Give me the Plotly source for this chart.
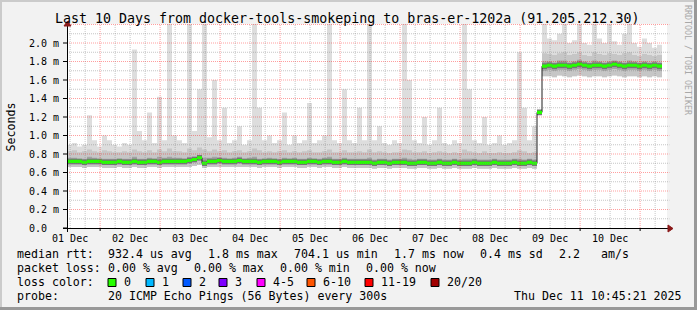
import plotly.graph_objects as go
from datetime import datetime, timedelta

# ---------------- data ----------------
T_START = datetime(2025, 12, 1, 10, 45, 21)
T_END = datetime(2025, 12, 11, 10, 45, 21)
STEP_HOURS = 2

# values in milliseconds, one per 2-hour bin
MEDIAN = [0.72, 0.72, 0.72, 0.71, 0.72, 0.72, 0.72, 0.71, 0.71, 0.71,
          0.72, 0.71, 0.71, 0.72, 0.71, 0.71, 0.72, 0.72, 0.71, 0.72,
          0.72, 0.72, 0.72, 0.72, 0.73, 0.74, 0.76, 0.70, 0.72, 0.72,
          0.73, 0.72, 0.72, 0.72, 0.73, 0.72, 0.72, 0.72, 0.71, 0.72,
          0.72, 0.72, 0.71, 0.72, 0.72, 0.72, 0.71, 0.71, 0.72, 0.72,
          0.71, 0.72, 0.72, 0.71, 0.71, 0.72, 0.71, 0.71, 0.71, 0.71,
          0.71, 0.70, 0.71, 0.71, 0.70, 0.71, 0.71, 0.71, 0.70, 0.70,
          0.71, 0.71, 0.70, 0.70, 0.71, 0.70, 0.70, 0.71, 0.70, 0.70,
          0.70, 0.71, 0.70, 0.70, 0.70, 0.71, 0.70, 0.70, 0.70, 0.71,
          0.70, 0.70, 0.71, 0.70, 1.25,
          1.75, 1.76, 1.75, 1.76, 1.76, 1.75, 1.76, 1.77, 1.76, 1.75,
          1.76, 1.76, 1.75, 1.76, 1.77, 1.76, 1.75, 1.76, 1.76, 1.75,
          1.76, 1.75, 1.76, 1.75]

MAX = [0.90, 0.92, 0.88, 0.90, 1.22, 0.95, 0.88, 1.00, 0.95, 0.90,
       0.88, 0.92, 0.90, 1.93, 1.05, 0.95, 1.25, 0.92, 1.42, 0.95,
       2.21, 1.00, 0.95, 0.92, 2.21, 1.05, 1.50, 2.21, 0.98, 1.60,
       0.95, 1.30, 0.92, 0.95, 1.10, 0.90, 0.95, 2.21, 1.30, 0.95,
       1.00, 0.92, 0.95, 1.25, 0.90, 1.00, 0.92, 0.95, 1.35, 0.92,
       0.95, 1.00, 2.21, 0.95, 0.92, 1.50, 0.95, 0.92, 1.30, 0.95,
       2.21, 0.95, 1.10, 0.92, 0.90, 0.95, 0.92, 2.21, 1.60, 0.95,
       0.92, 1.20, 0.90, 0.95, 1.30, 0.92, 0.90, 0.95, 0.92, 2.21,
       1.50, 0.95, 0.92, 1.20, 0.90, 0.92, 1.00, 0.90, 0.92, 0.95,
       1.90, 1.30, 0.95, 1.10, 1.27,
       2.21, 2.05, 2.03, 2.10, 2.21, 2.00, 2.03, 2.21, 2.00, 1.98,
       2.21, 2.05, 2.00, 2.21, 2.02, 1.98, 2.10, 2.21, 2.00, 1.96,
       2.05, 2.00, 1.95, 1.98]

HIGH = [0.83, 0.84, 0.82, 0.83, 0.85, 0.83, 0.82, 0.84, 0.83, 0.82,
        0.82, 0.83, 0.82, 0.85, 0.83, 0.82, 0.84, 0.82, 0.85, 0.83,
        0.86, 0.83, 0.83, 0.82, 0.86, 0.84, 0.87, 0.85, 0.83, 0.85,
        0.83, 0.84, 0.82, 0.83, 0.84, 0.82, 0.83, 0.86, 0.84, 0.82,
        0.83, 0.82, 0.83, 0.84, 0.82, 0.83, 0.82, 0.83, 0.84, 0.82,
        0.82, 0.83, 0.85, 0.82, 0.82, 0.84, 0.82, 0.82, 0.83, 0.82,
        0.85, 0.82, 0.83, 0.82, 0.81, 0.82, 0.82, 0.85, 0.84, 0.82,
        0.82, 0.83, 0.81, 0.82, 0.83, 0.82, 0.81, 0.82, 0.81, 0.85,
        0.83, 0.82, 0.81, 0.83, 0.81, 0.81, 0.82, 0.81, 0.81, 0.82,
        0.84, 0.83, 0.81, 0.82, 1.26,
        1.89, 1.88, 1.87, 1.89, 1.90, 1.87, 1.88, 1.90, 1.87, 1.86,
        1.90, 1.88, 1.87, 1.89, 1.88, 1.87, 1.89, 1.90, 1.87, 1.86,
        1.88, 1.87, 1.86, 1.87]

UPPER_Q = [0.76, 0.76, 0.75, 0.75, 0.77, 0.76, 0.75, 0.75, 0.75, 0.75,
           0.75, 0.75, 0.75, 0.77, 0.75, 0.75, 0.76, 0.75, 0.77, 0.76,
           0.77, 0.76, 0.76, 0.75, 0.77, 0.77, 0.79, 0.76, 0.76, 0.77,
           0.76, 0.76, 0.75, 0.76, 0.77, 0.75, 0.76, 0.77, 0.75, 0.75,
           0.76, 0.75, 0.75, 0.76, 0.75, 0.76, 0.75, 0.75, 0.76, 0.75,
           0.75, 0.76, 0.77, 0.75, 0.75, 0.76, 0.75, 0.75, 0.75, 0.75,
           0.76, 0.74, 0.75, 0.75, 0.74, 0.75, 0.75, 0.76, 0.75, 0.74,
           0.75, 0.75, 0.74, 0.74, 0.75, 0.74, 0.74, 0.75, 0.74, 0.75,
           0.75, 0.75, 0.74, 0.74, 0.74, 0.75, 0.74, 0.74, 0.74, 0.75,
           0.75, 0.74, 0.75, 0.74, 1.25,
           1.80, 1.80, 1.79, 1.81, 1.81, 1.79, 1.80, 1.82, 1.80, 1.79,
           1.81, 1.80, 1.79, 1.80, 1.81, 1.80, 1.79, 1.81, 1.80, 1.79,
           1.80, 1.79, 1.80, 1.79]

LOWER_Q = [0.69, 0.69, 0.69, 0.68, 0.69, 0.69, 0.69, 0.68, 0.68, 0.68,
           0.69, 0.68, 0.68, 0.69, 0.68, 0.68, 0.69, 0.69, 0.68, 0.69,
           0.69, 0.69, 0.69, 0.69, 0.70, 0.71, 0.73, 0.68, 0.69, 0.69,
           0.70, 0.69, 0.69, 0.69, 0.70, 0.69, 0.69, 0.69, 0.68, 0.69,
           0.69, 0.69, 0.68, 0.69, 0.69, 0.69, 0.68, 0.68, 0.69, 0.69,
           0.68, 0.69, 0.69, 0.68, 0.68, 0.69, 0.68, 0.68, 0.68, 0.68,
           0.68, 0.67, 0.68, 0.68, 0.67, 0.68, 0.68, 0.68, 0.67, 0.67,
           0.68, 0.68, 0.67, 0.67, 0.68, 0.67, 0.67, 0.68, 0.67, 0.67,
           0.67, 0.68, 0.67, 0.67, 0.67, 0.68, 0.67, 0.67, 0.67, 0.68,
           0.67, 0.67, 0.68, 0.67, 1.24,
           1.70, 1.71, 1.70, 1.71, 1.71, 1.70, 1.71, 1.72, 1.71, 1.70,
           1.71, 1.71, 1.70, 1.71, 1.72, 1.71, 1.70, 1.71, 1.71, 1.70,
           1.71, 1.70, 1.71, 1.70]

MIN = [0.66, 0.66, 0.66, 0.65, 0.66, 0.66, 0.66, 0.65, 0.65, 0.65,
       0.66, 0.65, 0.65, 0.66, 0.65, 0.65, 0.66, 0.66, 0.65, 0.66,
       0.66, 0.66, 0.66, 0.66, 0.66, 0.67, 0.68, 0.65, 0.66, 0.66,
       0.66, 0.66, 0.66, 0.66, 0.66, 0.66, 0.66, 0.66, 0.65, 0.66,
       0.66, 0.66, 0.65, 0.66, 0.66, 0.66, 0.65, 0.65, 0.66, 0.66,
       0.65, 0.66, 0.66, 0.65, 0.65, 0.66, 0.65, 0.65, 0.65, 0.65,
       0.65, 0.64, 0.65, 0.65, 0.64, 0.65, 0.65, 0.65, 0.64, 0.64,
       0.65, 0.65, 0.64, 0.64, 0.65, 0.64, 0.64, 0.65, 0.64, 0.64,
       0.64, 0.65, 0.64, 0.64, 0.64, 0.65, 0.64, 0.64, 0.64, 0.65,
       0.64, 0.64, 0.65, 0.64, 1.23,
       1.64, 1.64, 1.63, 1.65, 1.64, 1.63, 1.64, 1.65, 1.64, 1.63,
       1.64, 1.64, 1.63, 1.64, 1.65, 1.64, 1.63, 1.64, 1.64, 1.63,
       1.64, 1.63, 1.64, 1.63]

Y_TICKS = [0.0, 0.2, 0.4, 0.6, 0.8, 1.0, 1.2, 1.4, 1.6, 1.8, 2.0]
Y_TICK_TEXT = ["0.0  ", "0.2 m", "0.4 m", "0.6 m", "0.8 m", "1.0 m",
               "1.2 m", "1.4 m", "1.6 m", "1.8 m", "2.0 m"]
DAY_LABELS = ["01 Dec", "02 Dec", "03 Dec", "04 Dec", "05 Dec",
              "06 Dec", "07 Dec", "08 Dec", "09 Dec", "10 Dec"]

TITLE = "Last 10 Days from docker-tools-smokeping to bras-er-1202a (91.205.212.30)"
LOSS_COLORS = [("0", "#26ff00"), ("1", "#00b8ff"), ("2", "#0059ff"), ("3", "#7e00ff"),
               ("4-5", "#ff00ff"), ("6-10", "#ff5500"), ("11-19", "#ff0000"),
               ("20/20", "#a10000")]

# ---------------- geometry helpers ----------------
W, H = 697, 310
L, R, T, B = 67, 667, 24, 228
Y_MAX = (B - T) / 92.5


def px(x):
    return (x - L) / (R - L)


def py(y):
    return (B - y) / (B - T)


FONT = "DejaVu Sans Mono"

n = len(MEDIAN)
step = timedelta(hours=STEP_HOURS)
x_edges = [T_START + i * step for i in range(n + 1)]


def ext(a):
    return list(a) + [a[-1]]


fig = go.Figure()


def band(lo, hi, color):
    fig.add_trace(go.Scatter(x=x_edges, y=ext(lo), mode="lines", line=dict(width=0, shape="hv"),
                             hoverinfo="skip", showlegend=False))
    fig.add_trace(go.Scatter(x=x_edges, y=ext(hi), mode="lines", line=dict(width=0, shape="hv"),
                             fill="tonexty", fillcolor=color, hoverinfo="skip", showlegend=False))


band(MIN, MAX, "#dddddd")
band(MIN, HIGH, "#c6c6c6")
band(LOWER_Q, UPPER_Q, "#a2a2a2")
band([m - 0.03 for m in MEDIAN], [m + 0.03 for m in MEDIAN], "#747474")

# dark median step line (shows the vertical transitions)
fig.add_trace(go.Scatter(x=x_edges, y=ext(MEDIAN), mode="lines",
                         line=dict(color="#202020", width=1, shape="hv"),
                         hoverinfo="skip", showlegend=False))
# loss-coloured median bar (0 loss -> green)
band([m - 0.017 for m in MEDIAN], [m + 0.017 for m in MEDIAN], "#26ff00")

shapes = []
# grid lines (drawn above the smoke like rrdtool)
minor_color = "rgba(128,128,128,0.45)"
major_color = "rgba(255,0,0,0.38)"
for k in range(1, 23):
    v = k * 0.1
    if v > Y_MAX:
        break
    is_major = k % 2 == 0
    shapes.append(dict(type="line", xref="paper", yref="y", x0=0, x1=1.004, y0=v, y1=v,
                       line=dict(color=major_color if is_major else minor_color, width=1, dash="1px,1px"),
                       layer="above"))
t = datetime(2025, 12, 1, 12, 0, 0)
while t < T_END:
    if t > T_START:
        is_major = t.hour == 0
        shapes.append(dict(type="line", xref="x", yref="paper", x0=t, x1=t, y0=0, y1=1,
                           line=dict(color=major_color if is_major else minor_color, width=1, dash="1px,1px"),
                           layer="above"))
        if is_major:
            shapes.append(dict(type="line", xref="x", yref="paper", x0=t, x1=t, y0=py(228), y1=py(231),
                               line=dict(color="#000", width=1), layer="above"))
    t += timedelta(hours=6)

# y ticks
for v in Y_TICKS:
    shapes.append(dict(type="line", xref="paper", yref="y", x0=px(63), x1=px(67), y0=v, y1=v,
                       line=dict(color="#000", width=1), layer="above"))

# axes
shapes.append(dict(type="line", xref="paper", yref="paper", x0=px(63), x1=px(670), y0=py(228.5), y1=py(228.5),
                   line=dict(color="#000", width=1), layer="above"))
shapes.append(dict(type="line", xref="paper", yref="paper", x0=px(67.5), x1=px(67.5), y0=py(232), y1=py(24),
                   line=dict(color="#000", width=1), layer="above"))
arrow_col = "#8b1a1a"
shapes.append(dict(type="path", xref="paper", yref="paper",
                   path=f"M {px(668)},{py(225)} L {px(673)},{py(228.5)} L {px(668)},{py(232)} Z",
                   fillcolor=arrow_col, line=dict(color=arrow_col, width=1), layer="above"))
shapes.append(dict(type="path", xref="paper", yref="paper",
                   path=f"M {px(64)},{py(26)} L {px(67.5)},{py(21)} L {px(71)},{py(26)} Z",
                   fillcolor=arrow_col, line=dict(color=arrow_col, width=1), layer="above"))

# 3D border
shapes.append(dict(type="rect", xref="paper", yref="paper", x0=px(0), x1=px(697), y0=py(0), y1=py(2),
                   fillcolor="#cbcbcb", line=dict(width=0), layer="above"))
shapes.append(dict(type="rect", xref="paper", yref="paper", x0=px(0), x1=px(2), y0=py(0), y1=py(310),
                   fillcolor="#cbcbcb", line=dict(width=0), layer="above"))
shapes.append(dict(type="rect", xref="paper", yref="paper", x0=px(694), x1=px(697), y0=py(0), y1=py(310),
                   fillcolor="#999999", line=dict(width=0), layer="above"))
shapes.append(dict(type="rect", xref="paper", yref="paper", x0=px(0), x1=px(697), y0=py(307), y1=py(310),
                   fillcolor="#999999", line=dict(width=0), layer="above"))

annotations = []


def text(x, y, s, size=11.6, anchor="left", color="#000", angle=0):
    annotations.append(dict(xref="paper", yref="paper", x=px(x), y=py(y), text=s, showarrow=False,
                            xanchor=anchor, yanchor="middle", textangle=angle, borderpad=0,
                            font=dict(family=FONT, size=size, color=color)))


text(346.5, 18.5, TITLE, size=13.3, anchor="center")
text(10.5, 127, "Seconds", size=11.6, anchor="center", angle=-90)
text(688, 60, "RRDTOOL / TOBI OETIKER", size=8.3, anchor="center", color="#a8a8a8", angle=90)

text(16, 254, "median rtt:")
for xx, s in [(107, "932.4 us avg"), (207, "1.8 ms max"), (293, "704.1 us min"),
              (393, "1.7 ms now"), (479, "0.4 ms sd"), (558, "2.2"), (600, "am/s")]:
    text(xx, 254, s)
text(16, 268, "packet loss:")
for xx, s in [(107, "0.00 % avg"), (193, "0.00 % max"), (279, "0.00 % min"), (365, "0.00 % now")]:
    text(xx, 268, s)
text(16, 282, "loss color:")
box_x = [108, 146, 183, 219, 257, 307, 365, 431]
for bx, (lab, col) in zip(box_x, LOSS_COLORS):
    shapes.append(dict(type="rect", xref="paper", yref="paper", x0=px(bx), x1=px(bx + 8),
                       y0=py(278.5), y1=py(286.5), fillcolor=col, line=dict(color="#000", width=1)))
    text(bx + 15, 282, lab)
text(16, 296, "probe:")
text(107, 296, "20 ICMP Echo Pings (56 Bytes) every 300s")
text(513, 296, "Thu Dec 11 10:45:21 2025")

fig.update_layout(
    width=W, height=H, autosize=False,
    margin=dict(l=L, r=W - R, t=T, b=H - B, pad=0),
    paper_bgcolor="#f2f2f2", plot_bgcolor="#ffffff",
    shapes=shapes, annotations=annotations,
    xaxis=dict(range=[T_START, T_END], showgrid=False, zeroline=False, showline=False,
               tickvals=[datetime(2025, 12, d, 12) for d in range(1, 11)], ticktext=DAY_LABELS,
               ticks="outside", ticklen=1, tickcolor="rgba(0,0,0,0)",
               tickfont=dict(family=FONT, size=10, color="#000")),
    yaxis=dict(range=[0, Y_MAX], showgrid=False, zeroline=False, showline=False,
               tickvals=Y_TICKS, ticktext=[s.replace(" ", "\u00a0") for s in Y_TICK_TEXT],
               ticks="outside", ticklen=5, tickcolor="rgba(0,0,0,0)",
               tickfont=dict(family=FONT, size=10, color="#000")),
    showlegend=False,
)

fig.write_html("out.html")
